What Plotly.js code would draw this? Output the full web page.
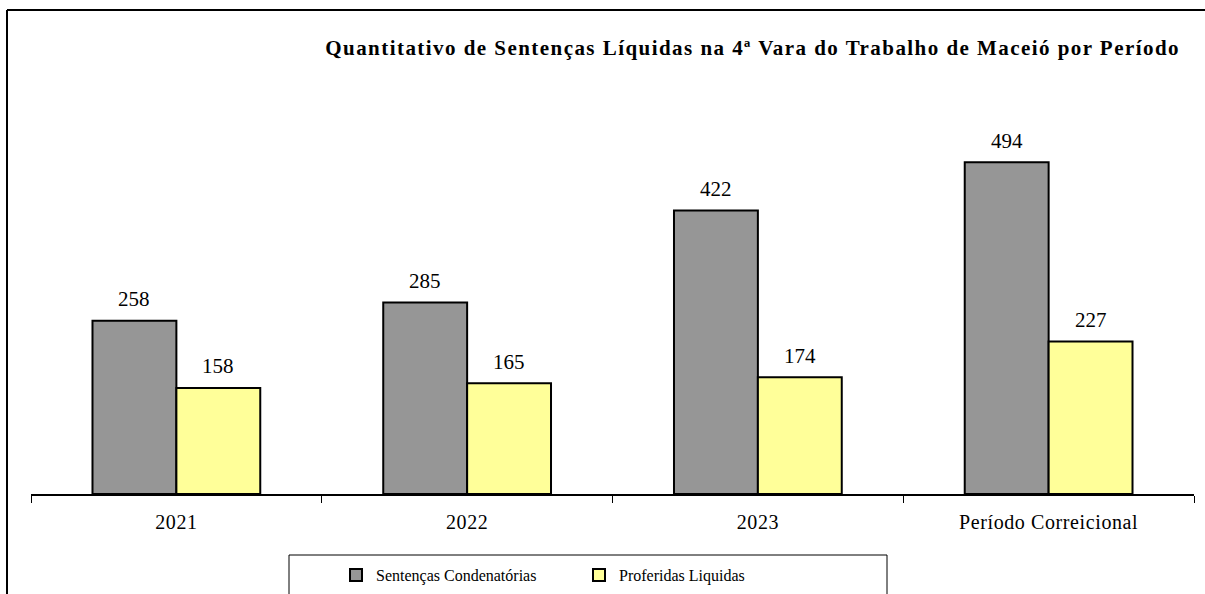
<!DOCTYPE html>
<html>
<head>
<meta charset="utf-8">
<script src="https://cdn.plot.ly/plotly-3.0.1.min.js"></script>
<style>
html,body{margin:0;padding:0;background:#fff;}
#chart{width:1205px;height:594px;}
#chart .gtitle{letter-spacing:1.45px;}
#chart .xtick text{letter-spacing:0.6px;}
</style>
</head>
<body>
<div id="chart"></div>
<script>
const categories = ["2021", "2022", "2023", "Período Correicional"];
const condenatorias = [258, 285, 422, 494];
const liquidas = [158, 165, 174, 227];
const seriesNames = ["Sentenças Condenatórias", "Proferidas Liquidas"];
const chartTitle = "Quantitativo de Sentenças Líquidas na 4ª Vara do Trabalho de Maceió por Período";

const W = 1205, H = 594;
const serif = "Liberation Serif, Times New Roman, serif";

const traces = [
  {type: "bar", name: seriesNames[0], x: categories, y: condenatorias,
   marker: {color: "#969696", line: {color: "#000", width: 2}}, hoverinfo: "none"},
  {type: "bar", name: seriesNames[1], x: categories, y: liquidas,
   marker: {color: "#FFFF99", line: {color: "#000", width: 2}}, hoverinfo: "none"}
];

const annotations = [];
categories.forEach((c, i) => {
  annotations.push({x: i, y: condenatorias[i], xref: "x", yref: "y", text: String(condenatorias[i]),
    showarrow: false, xshift: -42, yshift: 21.5, yanchor: "middle", font: {family: serif, size: 21, color: "#000"}});
  annotations.push({x: i, y: liquidas[i], xref: "x", yref: "y", text: String(liquidas[i]),
    showarrow: false, xshift: 42, yshift: 21.5, yanchor: "middle", font: {family: serif, size: 21, color: "#000"}});
});

const PW = W - 31 - 11, PH = 403;
const fx = v => (v - 31) / PW;
const fy = v => (494 - v) / PH;

const layout = {
  width: W, height: H,
  paper_bgcolor: "#fff", plot_bgcolor: "#fff",
  margin: {l: 31, r: 11, t: 91, b: 100, pad: 0},
  title: {text: "<b>" + chartTitle + "</b>", xref: "container", yref: "container",
    x: 1180 / W, xanchor: "right", y: 1 - 48 / H, yanchor: "middle",
    font: {family: serif, size: 21, color: "#000"}},
  barmode: "group", bargap: 0.423, bargroupgap: 0,
  xaxis: {type: "category", range: [-0.5, 3.5], autorange: false, showline: true, linecolor: "#000", linewidth: 1.5,
    ticks: "outside", tickson: "boundaries", ticklen: 7, tickcolor: "#000", tickwidth: 1,
    ticklabelstandoff: 9,
    showgrid: false, zeroline: false, fixedrange: true, tickangle: 0,
    tickfont: {family: serif, size: 20, color: "#000"}},
  yaxis: {range: [0, 600], autorange: false, visible: false, showgrid: false, zeroline: false, fixedrange: true},
  showlegend: true,
  legend: {orientation: "h", xref: "container", yref: "container", x: 336 / W, xanchor: "left",
    y: 1 - 575 / H, yanchor: "middle", bgcolor: "rgba(0,0,0,0)", borderwidth: 0,
    entrywidth: 198, entrywidthmode: "pixels",
    font: {family: serif, size: 16, color: "#000"}},
  annotations: annotations,
  shapes: [
    {type: "line", xref: "paper", yref: "paper", x0: fx(7), x1: fx(1300), y0: fy(10), y1: fy(10),
     line: {color: "#000", width: 2}},
    {type: "line", xref: "paper", yref: "paper", x0: fx(7), x1: fx(7), y0: fy(10), y1: fy(700),
     line: {color: "#000", width: 2}},
    {type: "rect", xref: "paper", yref: "paper", x0: fx(289), x1: fx(887), y0: fy(555), y1: fy(700),
     line: {color: "#000", width: 1}}
  ]
};

Plotly.newPlot("chart", traces, layout, {displayModeBar: false, staticPlot: true});
</script>
</body>
</html>
